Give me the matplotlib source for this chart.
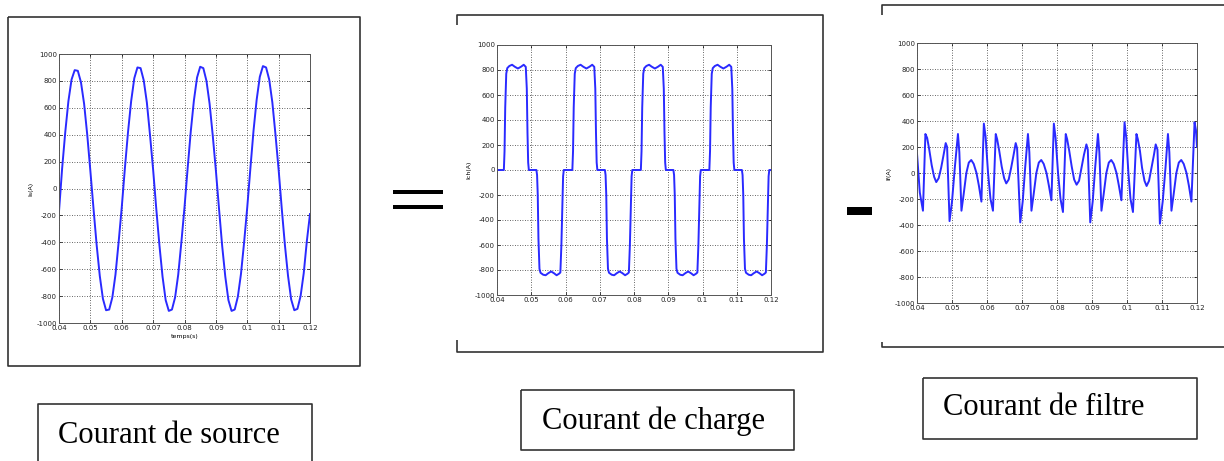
import matplotlib
matplotlib.use("Agg")
import matplotlib.pyplot as plt
from matplotlib.lines import Line2D
from matplotlib.patches import Rectangle

# --- donnees ---
x_ticks = [0.04, 0.05, 0.06, 0.07, 0.08, 0.09, 0.10, 0.11, 0.12]
x_tick_labels = ["0.04", "0.05", "0.06", "0.07", "0.08", "0.09", "0.1", "0.11", "0.12"]
y_ticks = [-1000, -800, -600, -400, -200, 0, 200, 400, 600, 800, 1000]
y_tick_labels = ["-1000", "-800", "-600", "-400", "-200", "0", "200", "400", "600", "800", "1000"]

# courant de source, un point toutes les 1 ms de 0.040 a 0.120
t_source = [0.040, 0.041, 0.042, 0.043, 0.044, 0.045, 0.046, 0.047, 0.048, 0.049,
            0.050, 0.051, 0.052, 0.053, 0.054, 0.055, 0.056, 0.057, 0.058, 0.059,
            0.060, 0.061, 0.062, 0.063, 0.064, 0.065, 0.066, 0.067, 0.068, 0.069,
            0.070, 0.071, 0.072, 0.073, 0.074, 0.075, 0.076, 0.077, 0.078, 0.079,
            0.080, 0.081, 0.082, 0.083, 0.084, 0.085, 0.086, 0.087, 0.088, 0.089,
            0.090, 0.091, 0.092, 0.093, 0.094, 0.095, 0.096, 0.097, 0.098, 0.099,
            0.100, 0.101, 0.102, 0.103, 0.104, 0.105, 0.106, 0.107, 0.108, 0.109,
            0.110, 0.111, 0.112, 0.113, 0.114, 0.115, 0.116, 0.117, 0.118, 0.119,
            0.120]
i_source = [-170, 150, 420, 650, 810, 880, 875, 790, 630, 400,
            130, -150, -420, -650, -820, -905, -900, -810, -640, -400,
            -140, 150, 420, 650, 820, 900, 895, 805, 640, 400,
            140, -150, -420, -655, -830, -910, -900, -810, -640, -400,
            -140, 150, 425, 655, 825, 905, 895, 800, 630, 395,
            135, -150, -425, -655, -830, -910, -900, -805, -635, -400,
            -140, 150, 430, 660, 830, 910, 900, 810, 640, 400,
            140, -150, -420, -650, -825, -905, -895, -800, -630, -390,
            -190]

# courant de charge (sommets releves)
t_charge = [0.0400,
            0.0420, 0.0422, 0.0424, 0.0427, 0.0430, 0.0436, 0.0444, 0.0452, 0.0461, 0.0470, 0.0478, 0.0484, 0.0487, 0.0489, 0.0491, 0.0493,
            0.0515, 0.0517, 0.0519, 0.0521, 0.0524, 0.0527, 0.0535, 0.0542, 0.0550, 0.0558, 0.0566, 0.0574, 0.0581, 0.0585, 0.0588, 0.0591, 0.0593, 0.0595,
            0.0620, 0.0622, 0.0624, 0.0627, 0.0630, 0.0636, 0.0644, 0.0652, 0.0661, 0.0670, 0.0678, 0.0684, 0.0687, 0.0689, 0.0691, 0.0693,
            0.0715, 0.0717, 0.0719, 0.0721, 0.0724, 0.0727, 0.0735, 0.0742, 0.0750, 0.0758, 0.0766, 0.0774, 0.0781, 0.0785, 0.0788, 0.0791, 0.0793, 0.0795,
            0.0820, 0.0822, 0.0824, 0.0827, 0.0830, 0.0836, 0.0844, 0.0852, 0.0861, 0.0870, 0.0878, 0.0884, 0.0887, 0.0889, 0.0891, 0.0893,
            0.0915, 0.0917, 0.0919, 0.0921, 0.0924, 0.0927, 0.0935, 0.0942, 0.0950, 0.0958, 0.0966, 0.0974, 0.0981, 0.0985, 0.0988, 0.0991, 0.0993, 0.0995,
            0.1020, 0.1022, 0.1024, 0.1027, 0.1030, 0.1036, 0.1044, 0.1052, 0.1061, 0.1070, 0.1078, 0.1084, 0.1087, 0.1089, 0.1091, 0.1093,
            0.1115, 0.1117, 0.1119, 0.1121, 0.1124, 0.1127, 0.1135, 0.1142, 0.1150, 0.1158, 0.1166, 0.1174, 0.1181, 0.1185, 0.1188, 0.1191, 0.1193, 0.1195,
            0.1200]
i_charge = [0,
            0, 150, 500, 770, 815, 832, 842, 826, 812, 826, 842, 825, 650, 300, 60, 0,
            0, -40, -200, -550, -790, -822, -838, -842, -825, -812, -825, -842, -830, -820, -600, -250, -50, 0,
            0, 150, 500, 770, 815, 832, 842, 826, 812, 826, 842, 825, 650, 300, 60, 0,
            0, -40, -200, -550, -790, -822, -838, -842, -825, -812, -825, -842, -830, -820, -600, -250, -50, 0,
            0, 150, 500, 770, 815, 832, 842, 826, 812, 826, 842, 825, 650, 300, 60, 0,
            0, -40, -200, -550, -790, -822, -838, -842, -825, -812, -825, -842, -830, -820, -600, -250, -50, 0,
            0, 150, 500, 770, 815, 832, 842, 826, 812, 826, 842, 825, 650, 300, 60, 0,
            0, -40, -200, -550, -790, -822, -838, -842, -825, -812, -825, -842, -830, -820, -600, -250, -50, 0,
            0]

# courant de filtre (sommets releves)
t_filtre = [0.0400, 0.0408, 0.0417, 0.0424, 0.0429, 0.0435, 0.0442, 0.0449, 0.0455, 0.0462,
            0.0469, 0.0476, 0.0482, 0.0486, 0.0493, 0.0500, 0.0508, 0.0517, 0.0521, 0.0527,
            0.0533, 0.0541, 0.0548, 0.0555, 0.0562, 0.0570, 0.0577, 0.0584, 0.0591, 0.0596,
            0.0603, 0.0610,
            0.0617, 0.0625, 0.0629, 0.0635, 0.0642, 0.0649, 0.0655, 0.0662, 0.0669, 0.0676,
            0.0682, 0.0686, 0.0695, 0.0702, 0.0709, 0.0717, 0.0721, 0.0727, 0.0733, 0.0741,
            0.0748, 0.0755, 0.0762, 0.0770, 0.0777, 0.0784, 0.0791, 0.0796, 0.0803, 0.0810,
            0.0817, 0.0825, 0.0829, 0.0835, 0.0842, 0.0849, 0.0856, 0.0863, 0.0870, 0.0877,
            0.0884, 0.0888, 0.0895, 0.0902, 0.0909, 0.0917, 0.0921, 0.0927, 0.0933, 0.0941,
            0.0948, 0.0955, 0.0962, 0.0970, 0.0977, 0.0984, 0.0993, 0.0998, 0.1004, 0.1010,
            0.1017, 0.1027, 0.1031, 0.1037, 0.1043, 0.1050, 0.1056, 0.1063, 0.1070, 0.1077,
            0.1082, 0.1087, 0.1094, 0.1102, 0.1110, 0.1117, 0.1121, 0.1127, 0.1133, 0.1141,
            0.1148, 0.1155, 0.1162, 0.1170, 0.1177, 0.1184, 0.1193, 0.1197, 0.1200]
i_filtre = [150, -150, -290, 300, 270, 180, 60, -30, -70, -40,
            40, 140, 230, 200, -370, -220, 40, 300, 160, -290,
            -170, 0, 80, 100, 70, 0, -100, -220, 380, 280,
            0, -200,
            -290, 300, 260, 170, 50, -40, -80, -50, 40, 140,
            230, 190, -380, -220, 40, 300, 160, -290, -170, 0,
            80, 100, 70, 0, -100, -210, 380, 270, 0, -200,
            -300, 300, 260, 170, 50, -50, -90, -60, 40, 140,
            220, 180, -380, -220, 40, 300, 160, -290, -170, 0,
            80, 100, 70, 0, -100, -210, 390, 270, 0, -200,
            -300, 300, 260, 170, 40, -60, -100, -60, 40, 140,
            220, 180, -390, -220, 40, 300, 160, -290, -170, 0,
            80, 100, 70, 0, -100, -220, 390, 330, 200]

captions = ["Courant de source", "Courant de charge", "Courant de filtre"]
y_labels = ["Is(A)", "Ich(A)", "If(A)"]

W, H = 1224, 461
fig = plt.figure(figsize=(W / 100, H / 100), dpi=100)
fig.patch.set_facecolor("white")


def px_rect(x0, y0, x1, y1):
    # pixels (origine en haut a gauche) -> fraction de figure
    return [x0 / W, 1 - y1 / H, (x1 - x0) / W, (y1 - y0) / H]


def fig_line(xs, ys, lw=1.2, color="#333333"):
    fig.add_artist(Line2D([x / W for x in xs], [1 - y / H for y in ys],
                          transform=fig.transFigure, lw=lw, color=color,
                          solid_capstyle="butt"))


def matlab_axes(rect, t, i, ylab, xlab=None):
    ax = fig.add_axes(px_rect(*rect))
    ax.plot(t, i, color="#2a2aff", lw=1.4)
    ax.set_xlim(0.04, 0.12)
    ax.set_ylim(-1000, 1000)
    ax.set_xticks(x_ticks)
    ax.set_xticklabels(x_tick_labels)
    ax.set_yticks(y_ticks)
    ax.set_yticklabels(y_tick_labels)
    ax.tick_params(direction="in", length=2, width=0.5, labelsize=5,
                   top=True, right=True, pad=1.5, labelcolor="#222222")
    ax.grid(True, color="#333333", lw=0.6, linestyle=(0, (1, 2)))
    for s in ax.spines.values():
        s.set_linewidth(0.7)
        s.set_color("#555555")
    ax.set_ylabel(ylab, fontsize=4.5, labelpad=2)
    if xlab:
        ax.set_xlabel(xlab, fontsize=4.5, labelpad=2)
    return ax


# cadres des trois graphes
fig_line([8, 360, 360, 8, 8], [17, 17, 366, 366, 17])
fig_line([457, 457, 823, 823, 457, 457], [25, 15, 15, 352, 352, 340])
fig_line([882, 882, 1224], [15, 5, 5])
fig_line([882, 882, 1224], [342, 347, 347])

matlab_axes((59, 54, 310, 323), t_source, i_source, y_labels[0], "temps(s)")
matlab_axes((497, 45, 771, 295), t_charge, i_charge, y_labels[1])
matlab_axes((917, 43, 1197, 303), t_filtre, i_filtre, y_labels[2])

# signes = et -
fig.add_artist(Rectangle((393 / W, 1 - 194 / H), 50 / W, 4 / H, transform=fig.transFigure,
                         color="black", lw=0))
fig.add_artist(Rectangle((393 / W, 1 - 209 / H), 50 / W, 4 / H, transform=fig.transFigure,
                         color="black", lw=0))
fig.add_artist(Rectangle((847 / W, 1 - 215 / H), 25 / W, 8 / H, transform=fig.transFigure,
                         color="black", lw=0))

# legendes encadrees
fig_line([38, 38, 312, 312], [470, 404, 404, 470])
fig_line([521, 794, 794, 521, 521], [390, 390, 450, 450, 390])
fig_line([923, 1197, 1197, 923, 923], [378, 378, 439, 439, 378])

for (x, y), txt in zip([(58, 443), (542, 429), (943, 415)], captions):
    fig.text(x / W, 1 - y / H, txt, family="Liberation Serif", fontsize=22,
             ha="left", va="baseline", color="black")

fig.savefig("out.png", dpi=100, facecolor="white")
